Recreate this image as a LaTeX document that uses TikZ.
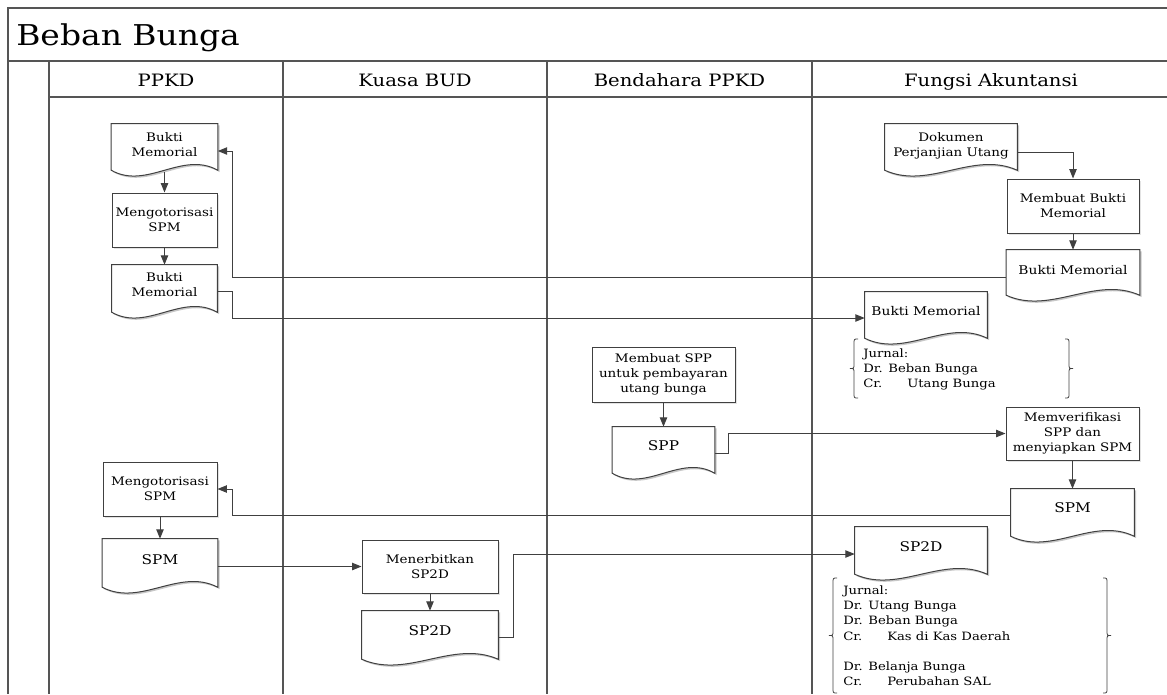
\documentclass[tikz,border=0pt]{standalone}
\usepackage{fontspec}
\setmainfont{DejaVu Serif}[FakeStretch=1.15]
\usetikzlibrary{arrows.meta,calc,backgrounds,shadows}
\definecolor{ln}{HTML}{404040}
\definecolor{fr}{HTML}{555555}
\newcommand\boxfont{\fontsize{8.8}{11.4}\selectfont}
\newcommand\docbig{\fontsize{10}{12}\selectfont}
\newcommand\docmid{\fontsize{9}{11.4}\selectfont}
\newcommand\jfont{\fontsize{8.6}{11.4}\selectfont}
\newcommand\hdrfont{\fontsize{12.8}{14}\selectfont}
\newcommand\ttlfont{\fontsize{21.5}{24}\selectfont}
\newcommand\docpath[1]{(#1.south west) -- (#1.north west) -- (#1.north east) -- (#1.south east) .. controls ($(#1.south east)!0.333!(#1.south west)+(0,-20)$) and ($(#1.south east)!0.667!(#1.south west)+(0,20)$) .. (#1.south west) -- cycle}
\newcommand\jbraceL[3]{\draw[bracel] (#1+4,#2) .. controls (#1,#2) .. (#1,#2+5) -- (#1,{(#2+#3)/2-5}) .. controls (#1,{(#2+#3)/2}) .. (#1-4,{(#2+#3)/2}) .. controls (#1,{(#2+#3)/2}) .. (#1,{(#2+#3)/2+5}) -- (#1,#3-5) .. controls (#1,#3) .. (#1+4,#3);}
\newcommand\jbraceR[3]{\draw[bracel] (#1-4,#2) .. controls (#1,#2) .. (#1,#2+5) -- (#1,{(#2+#3)/2-5}) .. controls (#1,{(#2+#3)/2}) .. (#1+4,{(#2+#3)/2}) .. controls (#1,{(#2+#3)/2}) .. (#1,{(#2+#3)/2+5}) -- (#1,#3-5) .. controls (#1,#3) .. (#1-4,#3);}
\begin{document}
\begin{tikzpicture}[x=0.75pt,y=-0.75pt,
  lanel/.style={draw=fr, line width=0.8pt},
  proc/.style 2 args={draw=ln, line width=0.75pt, fill=white, inner sep=0pt, align=center, font=\boxfont,
    minimum width=0.75pt*#1, minimum height=0.75pt*#2,
    drop shadow={shadow xshift=1.3pt, shadow yshift=-1.3pt, fill=black!22}},
  docgeom/.style 2 args={rectangle, inner sep=0pt, minimum width=0.75pt*#1, minimum height=0.75pt*#2},
  txt/.style={align=center, inner sep=0pt, font=\boxfont},
  jtxt/.style={align=left, inner sep=0pt, font=\jfont},
  conn/.style={draw=ln, line width=0.75pt, -{Triangle[length=7pt,width=5.5pt]}},
  bracel/.style={draw=ln, line width=0.6pt},
]
\useasboundingbox (0,0) rectangle (1167,694);
% frame
\draw[lanel] (1167,8) -- (8,8) -- (8,694);
\draw[lanel] (8,61) -- (1167,61);
\draw[lanel] (49,61) -- (49,694);
\draw[lanel] (49,97) -- (1167,97);
\draw[lanel] (283,61) -- (283,694);
\draw[lanel] (547,61) -- (547,694);
\draw[lanel] (812,61) -- (812,694);
\node[anchor=base west, inner sep=0pt, font=\ttlfont] (title) at (16,45) {Beban Bunga};
\node[anchor=base, inner sep=0pt, font=\hdrfont] (h1) at (166,86) {PPKD};
\node[anchor=base, inner sep=0pt, font=\hdrfont] (h2) at (415,86) {Kuasa BUD};
\node[anchor=base, inner sep=0pt, font=\hdrfont] (h3) at (679.5,86) {Bendahara PPKD};
\node[anchor=base, inner sep=0pt, font=\hdrfont] (h4) at (991,86) {Fungsi Akuntansi};
% document geometry
\node[docgeom={106}{46}] (bm1) at (164.5,147) {};
\node[docgeom={105}{47}] (bm2) at (164.5,288.5) {};
\node[docgeom={115}{48}] (spm1) at (160,563) {};
\node[docgeom={136}{48}] (sp2d1) at (430,635) {};
\node[docgeom={102}{46}] (spp) at (663.5,450) {};
\node[docgeom={132}{46}] (dok) at (951,147) {};
\node[docgeom={133}{45}] (bm3) at (1073,272.5) {};
\node[docgeom={122}{46}] (bm4) at (926,315) {};
\node[docgeom={123}{47}] (spm2) at (1072.5,512.5) {};
\node[docgeom={132}{47}] (sp2d2) at (921,550.5) {};
\begin{scope}[on background layer]
\foreach \n in {bm1,bm2,spm1,sp2d1,spp,dok,bm3,bm4,spm2,sp2d2}{
  \fill[black!22, transform canvas={xshift=1.3pt,yshift=-1.3pt}] \docpath{\n};
  \filldraw[fill=white, draw=ln, line width=0.75pt] \docpath{\n};
}
\end{scope}
% document texts
\node[txt] (bm1t) at (164.5,145) {Bukti\\Memorial};
\node[txt] (bm2t) at (164.5,285) {Bukti\\Memorial};
\node[txt, font=\docbig] (spm1t) at (160,560) {SPM};
\node[txt, font=\docbig] (sp2d1t) at (430,631) {SP2D};
\node[txt, font=\docbig] (sppt) at (663.5,446) {SPP};
\node[txt] (dokt) at (951,146) {Dokumen\\Perjanjian Utang};
\node[txt, font=\docmid] (bm3t) at (1073,270) {Bukti Memorial};
\node[txt, font=\docmid] (bm4t) at (926,311) {Bukti Memorial};
\node[txt, font=\docbig] (spm2t) at (1072.5,508) {SPM};
\node[txt, font=\docbig] (sp2d2t) at (921,547) {SP2D};
% processes
\node[proc={105}{54}] (m1) at (164.5,220) {Mengotorisasi\\SPM};
\node[proc={114}{54}] (m2) at (160,489) {Mengotorisasi\\SPM};
\node[proc={136}{53}] (mner) at (430,566.5) {Menerbitkan\\SP2D};
\node[proc={143}{55}] (mspp) at (663.5,374.5) {Membuat SPP\\untuk pembayaran\\utang bunga};
\node[proc={132}{54}] (mbm) at (1073,206) {Membuat Bukti\\Memorial};
\node[proc={133}{53}] (mver) at (1072.5,433.5) {Memverifikasi\\SPP dan\\menyiapkan SPM};
% journals
\node[jtxt, anchor=north west] (j1) at (863,348.5) {Jurnal:\\Dr. Beban Bunga\\\makebox[33pt][l]{Cr.}Utang Bunga};
\node[jtxt, anchor=north west] (j2) at (843,585.5) {Jurnal:\\Dr. Utang Bunga\\Dr. Beban Bunga\\\makebox[33pt][l]{Cr.}Kas di Kas Daerah\\[11.4pt]Dr. Belanja Bunga\\\makebox[33pt][l]{Cr.}Perubahan SAL};
\jbraceL{854}{339}{398}
\jbraceR{1069}{339}{398}
\jbraceL{833}{578}{693}
\jbraceR{1107}{578}{693}
% connectors
\draw[conn] ($(dok.east)+(0,5)$) -| (mbm.north);
\draw[conn] (mbm.south) -- (bm3.north);
\draw[conn] ($(bm3.west)+(0,4.5)$) -| ($(bm1.east)+(15,4)$) -- ($(bm1.east)+(0,4)$);
\draw[conn] (bm1.south) ++(0,2) -- (m1.north);
\draw[conn] (m1.south) -- (bm2.north);
\draw[conn] ($(bm2.east)+(0,2.5)$) -- ++(15,0) |- ($(bm4.west)+(0,3)$);
\draw[conn] (mspp.south) -- (spp.north);
\draw[conn] ($(spp.east)+(0,3)$) -- ++(14,0) |- (mver.west);
\draw[conn] (mver.south) -- (spm2.north);
\draw[conn] ($(spm2.west)+(0,2.5)$) -| ($(m2.east)+(15,0)$) -- (m2.east);
\draw[conn] (m2.south) -- (spm1.north);
\draw[conn] (spm1.east |- mner.west) -- (mner.west);
\draw[conn] (mner.south) -- (sp2d1.north);
\draw[conn] ($(sp2d1.east)+(0,2)$) -- ++(15,0) |- ($(sp2d2.west)+(0,3.5)$);
\end{tikzpicture}
\end{document}
